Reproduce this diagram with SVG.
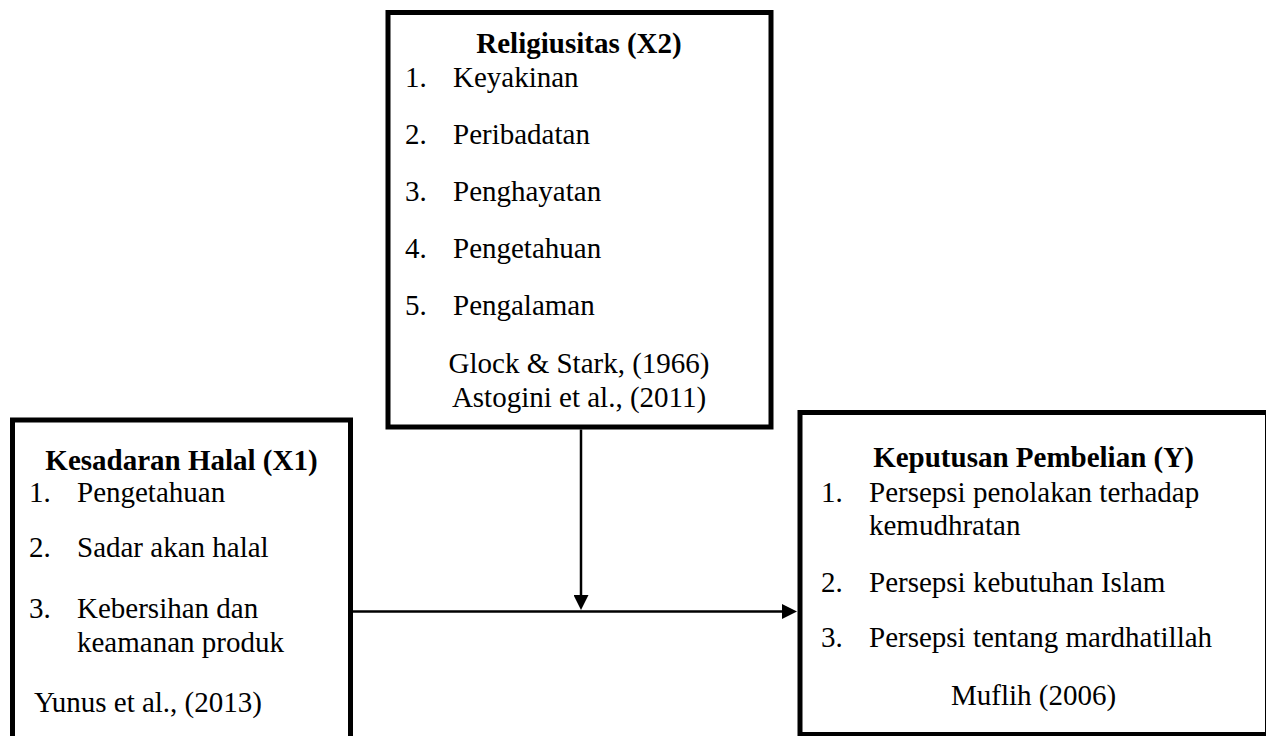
<svg xmlns="http://www.w3.org/2000/svg" width="1266" height="736" viewBox="0 0 1266 736">
<style>
.box{fill:#ffffff;stroke:#000000;stroke-width:5}
.t{font-family:'Liberation Serif','DejaVu Serif',serif;font-size:29px;fill:#000000}
.b{font-weight:bold}
.c{text-anchor:middle}
.conn{stroke:#000000;stroke-width:2.5;fill:none}
</style>
<defs>
<marker id="arr" markerUnits="userSpaceOnUse" markerWidth="15" markerHeight="15" viewBox="0 0 15 15" refX="10" refY="7.5" orient="auto">
<path d="M0,0 L15,7.5 L0,15 Z" fill="#000000"/>
</marker>
</defs>
<rect width="1266" height="736" fill="#ffffff"/>
<g id="religiusitas">
<rect class="box" x="388" y="12.5" width="383" height="414.5"/>
<text class="t b c" x="579" y="53">Religiusitas (X2)</text>
<text class="t" x="405" y="87">1.</text><text class="t" x="453" y="87">Keyakinan</text>
<text class="t" x="405" y="144">2.</text><text class="t" x="453" y="144">Peribadatan</text>
<text class="t" x="405" y="201">3.</text><text class="t" x="453" y="201">Penghayatan</text>
<text class="t" x="405" y="258">4.</text><text class="t" x="453" y="258">Pengetahuan</text>
<text class="t" x="405" y="315">5.</text><text class="t" x="453" y="315">Pengalaman</text>
<text class="t c" x="579" y="373">Glock &amp; Stark, (1966)</text>
<text class="t c" x="579" y="407">Astogini et al., (2011)</text>
</g>
<g id="kesadaran">
<rect class="box" x="12.5" y="420" width="338" height="330"/>
<text class="t b c" x="181.5" y="470">Kesadaran Halal (X1)</text>
<text class="t" x="29" y="502">1.</text><text class="t" x="77" y="502">Pengetahuan</text>
<text class="t" x="29" y="557">2.</text><text class="t" x="77" y="557">Sadar akan halal</text>
<text class="t" x="29" y="618">3.</text><text class="t" x="77" y="618">Kebersihan dan</text>
<text class="t" x="77" y="652">keamanan produk</text>
<text class="t" x="34" y="712">Yunus et al., (2013)</text>
</g>
<g id="keputusan">
<rect class="box" x="800" y="412.5" width="467.5" height="322"/>
<text class="t b c" x="1033.5" y="467">Keputusan Pembelian (Y)</text>
<text class="t" x="821" y="502">1.</text><text class="t" x="869" y="502">Persepsi penolakan terhadap</text>
<text class="t" x="869" y="535">kemudhratan</text>
<text class="t" x="821" y="592">2.</text><text class="t" x="869" y="592">Persepsi kebutuhan Islam</text>
<text class="t" x="821" y="647">3.</text><text class="t" x="869" y="647">Persepsi tentang mardhatillah</text>
<text class="t c" x="1033.5" y="705">Muflih (2006)</text>
</g>
<g id="connectors">
<path class="conn" d="M581,429.5 L581,605" marker-end="url(#arr)"/>
<path class="conn" d="M353,611.5 L792,611.5" marker-end="url(#arr)"/>
</g>
</svg>
